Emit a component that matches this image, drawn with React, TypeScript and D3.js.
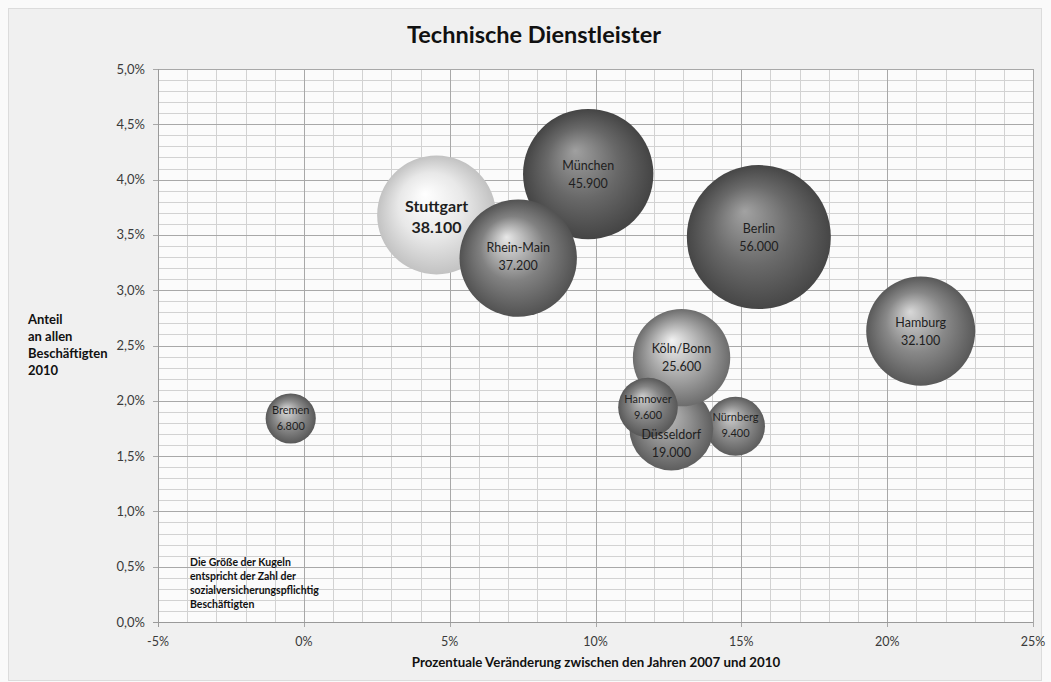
import React from "react";
import * as d3 from "d3";

// ---- data ----
const cities = ["Berlin", "München", "Stuttgart", "Rhein-Main", "Hamburg", "Nürnberg", "Düsseldorf", "Köln/Bonn", "Hannover", "Bremen"];
const changePct = [15.6, 9.75, 4.55, 7.35, 21.15, 14.8, 12.6, 12.95, 11.8, -0.45];
const sharePct = [3.48, 4.05, 3.68, 3.29, 2.63, 1.77, 1.75, 2.39, 1.94, 1.84];
const employees = [56000, 45900, 38100, 37200, 32100, 9400, 19000, 25600, 9600, 6800];
// bubble shading: highlight, mid, edge
const shadeHi = ["#a2a2a2", "#a0a0a0", "#ffffff", "#e8e8e8", "#d8d8d8", "#d0d0d0", "#c4c4c4", "#f2f2f2", "#cfcfcf", "#dedede"];
const shadeMid = ["#6a6a6a", "#686868", "#e8e8e8", "#818181", "#888888", "#8c8c8c", "#8e8e8e", "#a8a8a8", "#848484", "#8c8c8c"];
const shadeEdge = ["#464646", "#444444", "#c2c2c2", "#525252", "#595959", "#5c5c5c", "#5e5e5e", "#6c6c6c", "#585858", "#585858"];
// label vertical nudge (px) for labels moved off-centre in the original
const labelNudge = [0, 0, 0, -2, 0, -1, 15, 0, 0, 0];

const yTicks = [0, 0.5, 1, 1.5, 2, 2.5, 3, 3.5, 4, 4.5, 5];
const xTicks = [-5, 0, 5, 10, 15, 20, 25];

const title = "Technische Dienstleister";
const xTitle = "Prozentuale Veränderung zwischen den Jahren 2007 und 2010";
const yTitleLines = ["Anteil", "an allen", "Beschäftigten", "2010"];
const noteLines = ["Die Größe der Kugeln", "entspricht der Zahl der", "sozialversicherungspflichtig", "Beschäftigten"];

const de = d3.formatLocale({ decimal: ",", thousands: ".", grouping: [3], currency: ["", " €"], minus: "-" });
const fmtNum = de.format(",.0f");
const fmtY = (v: number) => de.format(".1f")(v) + "%";
const fmtX = (v: number) => de.format(".0f")(v) + "%";

const FONT = "Lato, 'Open Sans', sans-serif";

export default function App() {
  const W = 1051, H = 682;
  const x = d3.scaleLinear().domain([-5, 25]).range([158, 1033]);
  const y = d3.scaleLinear().domain([0, 5]).range([622, 69]);
  const r = d3.scaleSqrt().domain([0, 56000]).range([0, 72]);

  const minorX = d3.range(-5, 25.001, 1);
  const minorY = d3.range(0, 5.001, 0.1);
  const [x0, x1] = x.range();
  const [y0, y1] = y.range();

  return (
    <svg width={W} height={H} style={{ position: "absolute", left: 0, top: 0, background: "#fafafa" }} fontFamily={FONT}>
      <defs>
        {cities.map((c, i) => (
          <radialGradient key={c} id={`g${i}`} cx="50%" cy="50%" r="50%" fx="40%" fy="32%">
            <stop offset="0%" stopColor={shadeHi[i]} />
            <stop offset="55%" stopColor={shadeMid[i]} />
            <stop offset="100%" stopColor={shadeEdge[i]} />
          </radialGradient>
        ))}
      </defs>
      <rect x={8.5} y={8.5} width={1033} height={672} fill="#f0f0f0" stroke="#dcdcdc" />
      <rect x={x0} y={y1} width={x1 - x0} height={y0 - y1} fill="#fbfbfb" />
      {/* minor grid */}
      {minorY.map((v, i) => (
        <line key={"my" + i} x1={x0} x2={x1} y1={Math.round(y(v)) + 0.5} y2={Math.round(y(v)) + 0.5} stroke="#d2d2d2" />
      ))}
      {minorX.map((v, i) => (
        <line key={"mx" + i} y1={y1} y2={y0} x1={Math.round(x(v)) + 0.5} x2={Math.round(x(v)) + 0.5} stroke="#d2d2d2" />
      ))}
      {/* major grid */}
      {yTicks.map((v) => (
        <line key={"Y" + v} x1={x0 - 5} x2={x1} y1={Math.round(y(v)) + 0.5} y2={Math.round(y(v)) + 0.5} stroke="#a8a8a8" />
      ))}
      {xTicks.map((v) => (
        <line key={"X" + v} y1={y1} y2={y0 + 5} x1={Math.round(x(v)) + 0.5} x2={Math.round(x(v)) + 0.5} stroke="#a8a8a8" />
      ))}
      <line x1={x0 + 0.5} x2={x0 + 0.5} y1={y1} y2={y0 + 5} stroke="#9a9a9a" />
      <line x1={x0 - 5} x2={x1} y1={y0 + 0.5} y2={y0 + 0.5} stroke="#9a9a9a" />

      {/* tick labels */}
      {yTicks.map((v) => (
        <text key={"yl" + v} x={145} y={y(v)} dy="0.35em" textAnchor="end" fontSize={13} fill="#3a3a3a">
          {fmtY(v)}
        </text>
      ))}
      {xTicks.map((v) => (
        <text key={"xl" + v} x={x(v)} y={646} textAnchor="middle" fontSize={12.5} fill="#3a3a3a">
          {fmtX(v)}
        </text>
      ))}

      {/* bubbles */}
      {cities.map((c, i) => (
        <circle key={c} cx={x(changePct[i])} cy={y(sharePct[i])} r={r(employees[i])} fill={`url(#g${i})`} />
      ))}
      {/* bubble labels on top */}
      {cities.map((c, i) => {
        const cx = x(changePct[i]);
        const cy = y(sharePct[i]) + labelNudge[i];
        const bold = c === "Stuttgart";
        const small = employees[i] < 10000;
        const fs = bold ? 16 : small ? 11 : 12.5;
        return (
          <g key={"l" + c} fill="#1e1e1e" fontWeight={bold ? 700 : 400} fontSize={fs} textAnchor="middle">
            <text x={cx} y={cy - (bold ? 3 : small ? 4 : 4.5)}>{c}</text>
            <text x={cx} y={cy + (bold ? 18 : small ? 12 : 13.5)}>{fmtNum(employees[i])}</text>
          </g>
        );
      })}

      {/* title */}
      <text x={534} y={43} textAnchor="middle" fontSize={23.5} fontWeight={700} fill="#111">
        {title}
      </text>
      {/* x title */}
      <text x={596} y={667} textAnchor="middle" fontSize={13.3} fontWeight={700} fill="#111">
        {xTitle}
      </text>
      {/* y title */}
      {yTitleLines.map((t, i) => (
        <text key={t} x={28} y={324 + i * 17} fontSize={13} fontWeight={700} fill="#111">
          {t}
        </text>
      ))}
      {/* note */}
      {noteLines.map((t, i) => (
        <text key={t} x={190} y={566 + i * 14} fontSize={10.5} fontWeight={700} fill="#111">
          {t}
        </text>
      ))}
    </svg>
  );
}
